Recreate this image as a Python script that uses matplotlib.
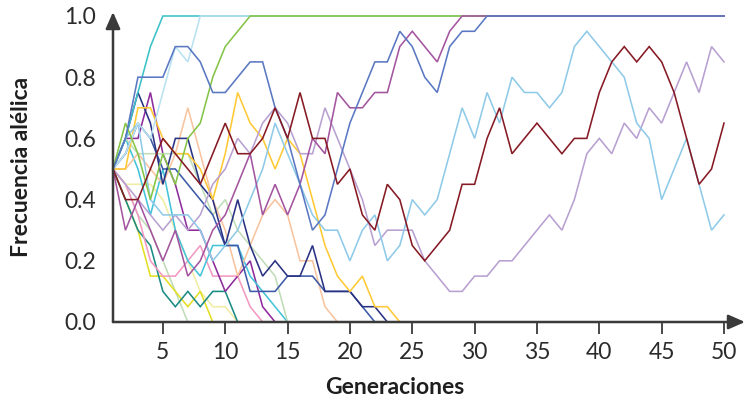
import numpy as np
import matplotlib
matplotlib.use("Agg")
import matplotlib.pyplot as plt

# Allele frequency trajectories (generation 1..n)
gens_total = 50
dark_red = [.5, .4, .4, .5, .6, .55, .5, .45, .55, .65,
            .55, .55, .6, .7, .6, .75, .6, .6, .45, .5,
            .35, .3, .45, .4, .25, .2, .25, .3, .45, .45,
            .6, .7, .55, .6, .65, .6, .55, .6, .6, .75,
            .85, .9, .85, .9, .85, .75, .6, .45, .5, .65]
light_blue = [.5, .6, .65, .4, .35, .35, .35, .3, .2, .25,
              .3, .4, .5, .65, .55, .45, .35, .3, .3, .2,
              .3, .35, .2, .25, .4, .35, .4, .55, .7, .6,
              .75, .65, .8, .75, .75, .7, .75, .9, .95, .9,
              .85, .8, .65, .6, .4, .5, .6, .45, .3, .35]
lavender = [.5, .45, .4, .35, .3, .35, .3, .35, .45, .5,
            .6, .55, .65, .7, .65, .55, .55, .7, .6, .5,
            .4, .25, .3, .3, .3, .2, .15, .1, .1, .15,
            .15, .2, .2, .25, .3, .35, .3, .4, .55, .6,
            .55, .65, .6, .7, .65, .75, .85, .75, .9, .85]
magenta = [.5, .3, .4, .3, .2, .3, .15, .2, .3, .35,
           .45, .55, .35, .45, .35, .45, .6, .55, .75, .7,
           .7, .75, .75, .9, .95, .9, .85, .95, 1.0]
med_blue = [.5, .6, .8, .8, .8, .9, .9, .85, .75, .75,
            .8, .85, .85, .7, .6, .45, .3, .35, .5, .65,
            .75, .85, .85, .95, .9, .8, .75, .9, .95, .95, 1.0]
green = [.5, .65, .55, .4, .55, .45, .6, .65, .8, .9, .95, 1.0]
cyan_up = [.5, .6, .75, .9, 1.0]
pale_blue = [.5, .55, .65, .6, .75, .9, .85, 1.0]
gold = [.5, .5, .7, .7, .6, .55, .55, .5, .4, .55,
        .75, .65, .6, .5, .6, .55, .4, .25, .15, .1,
        .15, .05, .05, 0]
navy = [.5, .6, .75, .65, .45, .6, .6, .45, .4, .25,
        .4, .25, .15, .2, .15, .15, .25, .1, .1, .1,
        .05, .05, 0]
blue_navy = [.5, .55, .65, .6, .5, .5, .45, .4, .35, .25,
             .25, .1, .1, .1, .15, .15, .15, .1, .1, .1, .05, 0]
peach = [.5, .5, .55, .5, .45, .55, .7, .55, .4, .3,
         .15, .25, .35, .4, .35, .2, .2, .05, 0]
pale_green_a = [.5, .45, .35, .3, .2, .1, 0]
pale_green_b = [.5, .6, .55, .55, .55, .55, .55, .45, .35, .4,
                .3, .25, .2, .15, 0]
pink = [.5, .45, .35, .2, .15, .15, .2, .25, .15, .15, .15, .05, 0]
purple = [.5, .6, .6, .75, .55, .45, .3, .3, .2, .1, .15, .2, .05, 0]
cyan = [.5, .6, .5, .35, .5, .3, .2, .15, .25, .25, .25, .15, .1, .05, 0]
lemon = [.5, .4, .3, .15, .15, .1, .05, .1, 0]
pale_yellow = [.5, .45, .45, .45, .4, .3, .2, .1, .05, .05, 0]
teal = [.5, .4, .3, .25, .1, .05, .1, .05, .1, .1, 0]

# drawing order (later = on top), with colours
series = [
    (pale_green_a, "#bfdcb8"), (pale_yellow, "#f1eda4"), (lemon, "#e3df24"),
    (teal, "#1d8b85"), (pink, "#f299c1"), (purple, "#8d2c9b"),
    (cyan, "#44c3da"), (pale_green_b, "#c0ddb8"), (peach, "#f8c49f"),
    (blue_navy, "#3d5aa8"), (navy, "#2a3283"), (gold, "#ffc936"),
    (lavender, "#b8a0d1"), (light_blue, "#8fcae8"),
    (cyan_up, "#3cc1c8"), (pale_blue, "#b9e2f2"), (green, "#84c446"),
    (magenta, "#a4559f"), (med_blue, "#5a78c2"), (dark_red, "#861a24"),
]


def fixed(vals):
    # once an allele is lost or fixed it stays there
    return list(vals) + [vals[-1]] * (gens_total - len(vals))


fig = plt.figure(figsize=(7.47, 4.0), dpi=100)
ax = fig.add_axes([113 / 747, 78 / 400, 632 / 747, 310 / 400])

gens = np.arange(1, gens_total + 1)
for vals, col in series:
    ax.plot(gens, fixed(vals), color=col, lw=1.15, clip_on=False,
            solid_joinstyle="miter")

px_per_gen = (724 - 113) / 49
ax.set_xlim(1, 1 + 632 / px_per_gen)
ax.set_ylim(0, 310 / 306)

for s in ax.spines.values():
    s.set_visible(False)

axis_col = "#3a3a3a"
arrow = dict(arrowstyle="-|>,head_length=0.5,head_width=0.22", color=axis_col,
             lw=1.8, shrinkA=0, shrinkB=0, mutation_scale=20)
ax.annotate("", xy=(1, 0), xycoords="axes fraction", xytext=(0, 0),
            arrowprops=arrow, zorder=10)
ax.annotate("", xy=(0, 1), xycoords="axes fraction", xytext=(0, 0),
            arrowprops=arrow, zorder=10)

ax.set_xticks(np.arange(5, 51, 5))
ax.set_yticks([0, .2, .4, .6, .8, 1.0])
ax.set_yticklabels(["0.0", "0.2", "0.4", "0.6", "0.8", "1.0"])
ax.tick_params(axis="x", direction="out", length=8.5, width=1.3,
               color=axis_col, pad=6, labelsize=16.5, labelcolor="#2b2b2b")
ax.tick_params(axis="y", length=0, pad=12, labelsize=16.5, labelcolor="#2b2b2b")
for lab in ax.get_xticklabels() + ax.get_yticklabels():
    lab.set_family("Lato")
    lab.set_weight("normal")

fig.text(395 / 747, 1 - 387 / 400, "Generaciones", ha="center", va="center",
         fontsize=16.5, fontweight="bold", family="Lato", color="#1e1e1e")
fig.text(22 / 747, 1 - 167 / 400, "Frecuencia alélica", ha="center",
         va="center", rotation=90, fontsize=16.5, fontweight="bold",
         family="Lato", color="#1e1e1e")

fig.savefig("out.png", dpi=100)
